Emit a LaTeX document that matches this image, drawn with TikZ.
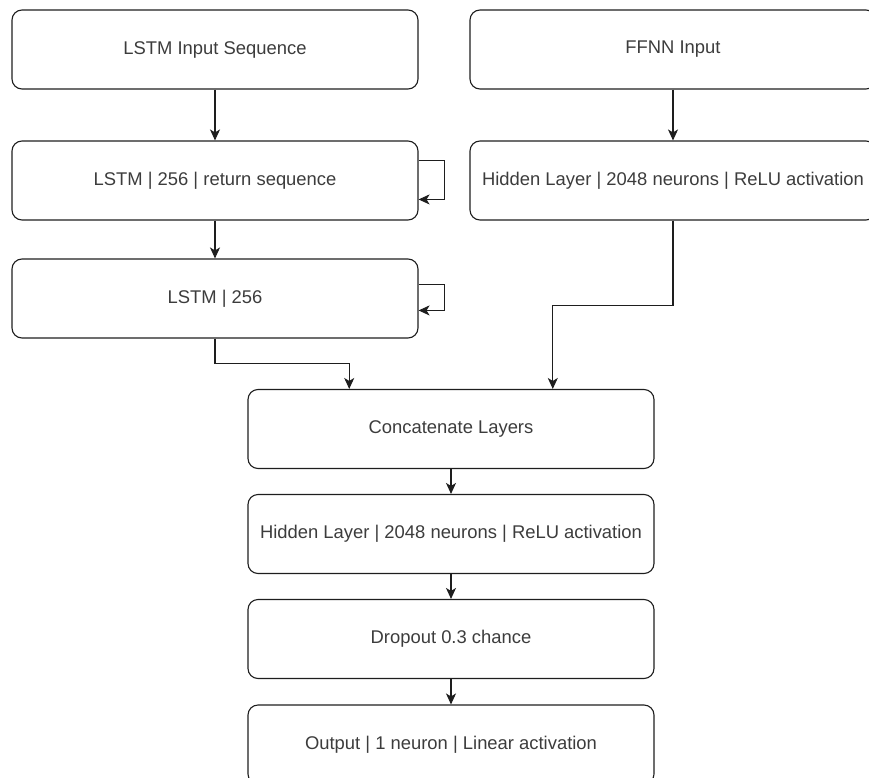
\documentclass[tikz,border=0pt]{standalone}
\usepackage{fontspec}
\setmainfont{Liberation Sans}
\usetikzlibrary{arrows.meta,calc}
\definecolor{txt}{RGB}{60,60,60}
\definecolor{ln}{RGB}{30,30,30}
\tikzset{
  box/.style={draw=ln, line width=1.1pt, rounded corners=10pt, rectangle,
    minimum width=406pt, minimum height=79pt, inner sep=0pt,
    text=txt, font=\fontsize{18.4}{21}\selectfont},
  conn/.style={draw=ln, line width=1.1pt, -{Stealth[length=11pt,width=10pt,inset=3pt]}}
}
\begin{document}
\begin{tikzpicture}[x=1pt,y=-1pt]
\useasboundingbox (0,0) rectangle (869,778);
\begin{scope}
\clip (0,0) rectangle (869,778);
\node[box] (lin) at (215,49.5) {LSTM Input Sequence};
\node[box] (ffnn) at (673,49.5) {FFNN Input};
\node[box] (lstm1) at (215,180.5) {LSTM | 256 | return sequence};
\node[box] (hid1) at (673,180.5) {Hidden Layer | 2048 neurons | ReLU activation};
\node[box] (lstm2) at (215,298.5) {LSTM | 256};
\node[box] (cat) at (451,429) {Concatenate Layers};
\node[box] (hid2) at (451,534) {Hidden Layer | 2048 neurons | ReLU activation};
\node[box] (drop) at (451,639) {Dropout 0.3 chance};
\node[box] (out) at (451,744.5) {Output | 1 neuron | Linear activation};

\draw[conn] (lin) -- (lstm1);
\draw[conn] (ffnn) -- (hid1);
\draw[conn] (lstm1) -- (lstm2);
\draw[conn] (lstm1.north east) ++(0,20) -- ++(26,0) -- ++(0,39) -- ++(-26,0);
\draw[conn] (lstm2.north east) ++(0,26) -- ++(26,0) -- ++(0,26) -- ++(-26,0);
\coordinate (c1) at ($(cat.north west)!0.25!(cat.north east)$);
\coordinate (c2) at ($(cat.north west)!0.75!(cat.north east)$);
\draw[conn] (lstm2.south) -- ++(0,25) -| (c1);
\draw[conn] (hid1.south) -- ++(0,85) -| (c2);
\draw[conn] (cat) -- (hid2);
\draw[conn] (hid2) -- (drop);
\draw[conn] (drop) -- (out);
\end{scope}
\end{tikzpicture}
\end{document}
